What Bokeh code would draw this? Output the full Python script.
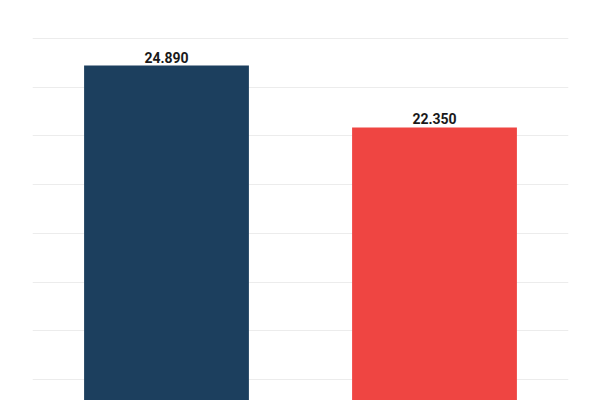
from bokeh.plotting import figure
from bokeh.models import ColumnDataSource, Range1d, FactorRange
from bokeh.core.properties import value
from bokeh.embed import file_html
from bokeh.resources import INLINE

categories = ["A", "B"]
values = [24.89, 22.35]
labels = ["24.890", "22.350"]
colors = ["#1c3f5e", "#ef4542"]

src = ColumnDataSource(dict(cat=categories, val=values, lab=labels, col=colors))

p = figure(width=600, height=400, output_backend="svg", toolbar_location=None,
           x_range=FactorRange(*categories, range_padding=0),
           y_range=Range1d(11.14, 27.56),
           min_border_left=32, min_border_right=32, min_border_top=0, min_border_bottom=0)
p.xaxis.visible = False
p.yaxis.visible = False
p.outline_line_color = None
p.xgrid.grid_line_color = None
p.ygrid.grid_line_color = "#ececec"
p.ygrid.grid_line_width = 1
p.yaxis.ticker = [12, 14, 16, 18, 20, 22, 24, 26]
p.ygrid.ticker = p.yaxis.ticker

p.vbar(x="cat", top="val", bottom=0, width=0.615, fill_color="col", line_color=None, source=src)
p.text(x="cat", y="val", text="lab", source=src, text_align="center", text_baseline="bottom",
       y_offset=-3, text_font=value("Roboto"), text_font_size="14px", text_color="#1a1a1a",
       text_font_style="bold")

open("out.html", "w").write(file_html(p, INLINE))
